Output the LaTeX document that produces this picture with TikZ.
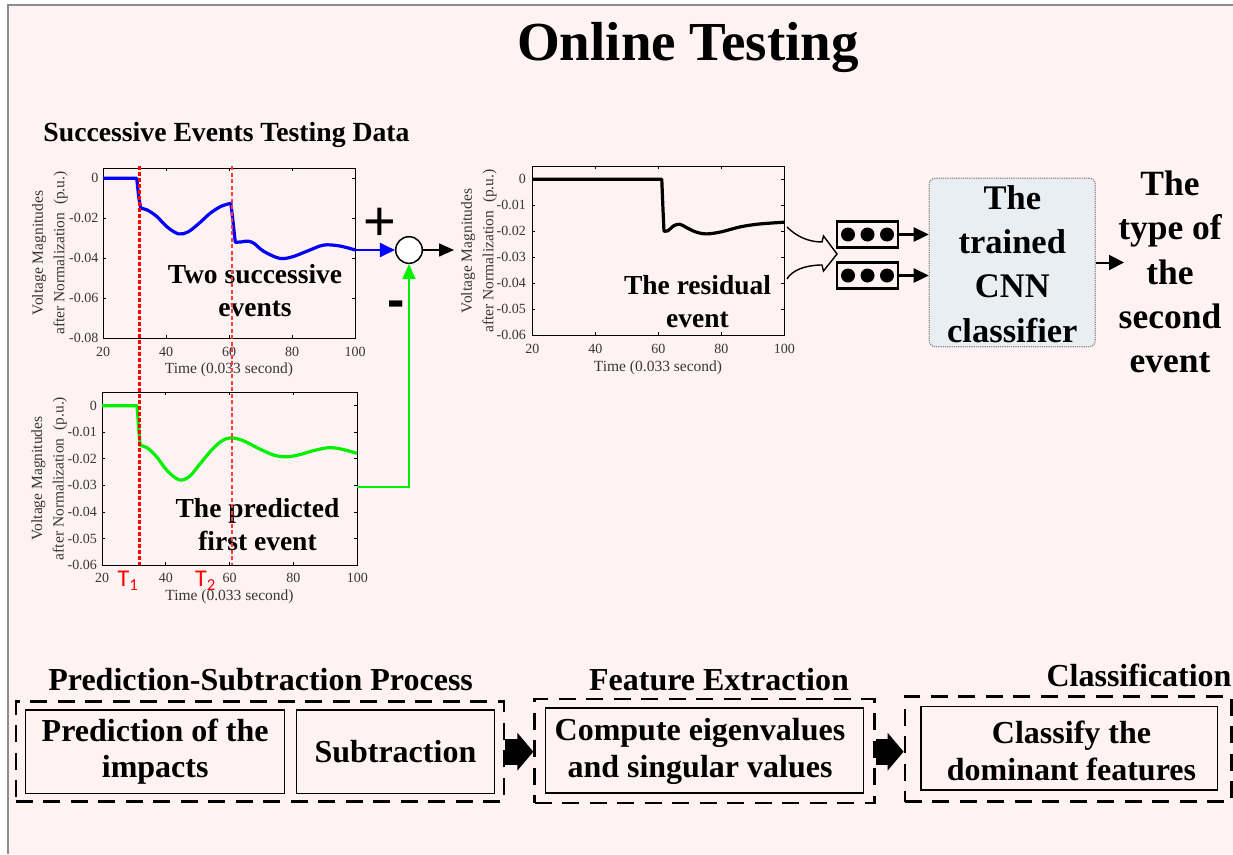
\documentclass[tikz,border=0pt]{standalone}
\usepackage{fontspec}
\setmainfont{Liberation Serif}
\newfontfamily\calib{Carlito}
\newfontfamily\arialf{Liberation Sans}
\usetikzlibrary{arrows.meta,calc}
\definecolor{bgpink}{RGB}{254,242,242}
\definecolor{framegray}{RGB}{140,140,140}
\definecolor{cnnfill}{RGB}{233,238,242}
\definecolor{tickgray}{RGB}{55,55,55}
\definecolor{mygreen}{RGB}{0,240,0}
\definecolor{myblue}{RGB}{0,0,255}
\definecolor{myred}{RGB}{255,0,0}
\definecolor{tmarkred}{RGB}{255,60,60}
\tikzset{
  axisbox/.style={draw=black, line width=1pt, inner sep=0pt},
  tickline/.style={black, line width=0.8pt},
  ticklab/.style={font=\fontsize{14}{16}\selectfont, text=tickgray, inner sep=0pt},
  axlab/.style={font=\fontsize{15.5}{21.5}\selectfont, text=tickgray, inner sep=0pt, align=center},
  plotlab/.style={font=\bfseries\fontsize{27.5}{33}\selectfont, align=center, inner sep=0pt},
  seclab/.style={font=\bfseries\fontsize{32}{36}\selectfont, inner sep=0pt},
  boxtext/.style={font=\bfseries\fontsize{32}{36.7}\selectfont, align=center, inner sep=0pt},
  innerbox/.style={draw=black, line width=1.4pt, inner sep=0pt},
  dashbox/.style={draw=black, line width=2.5pt, dash pattern=on 17pt off 10.5pt, inner sep=0pt},
  featbox/.style={draw=black, line width=2.6pt, inner sep=0pt, minimum width=61pt, minimum height=25.6pt},
  cnnbox/.style={draw=framegray, densely dotted, line width=1.2pt, fill=cnnfill, rounded corners=6pt, inner sep=0pt},
  bigtext/.style={font=\bfseries\fontsize{34.5}{44.2}\selectfont, align=center, inner sep=0pt},
  blockarrow/.style={line width=26pt, -{Triangle[length=16pt,width=37pt]}},
  tlabel/.style={font=\calib\fontsize{24}{26}\selectfont, text=myred, inner sep=0pt, anchor=base west},
  curve/.style={line width=3.2pt, line join=round}
}
\begin{document}
\begin{tikzpicture}[x=1pt,y=-1pt]
\useasboundingbox (0,0) rectangle (1233,854);
\fill[bgpink] (8,5) rectangle (1233,854);
\draw[framegray, line width=2pt] (8,854) -- (8,5) -- (1233,5);

% title and section label
\node[font=\bfseries\fontsize{55}{60}\selectfont, inner sep=0pt] (title) at (688,47) {Online Testing};
\node[font=\bfseries\fontsize{27.7}{30}\selectfont, inner sep=0pt] (sec0) at (226.5,135) {Successive Events Testing Data};

% ---------------- plot 1 -----------------
\node[axisbox, minimum width=252pt, minimum height=170.3pt] (p1) at (229,253.15) {};
\foreach \k/\lab in {0/0,1/-0.02,2/-0.04,3/-0.06,4/-0.08}{
  \draw[tickline] (103,{178.3+40*\k}) -- ++(3,0);
  \draw[tickline] (355,{178.3+40*\k}) -- ++(-3,0);
  \node[ticklab, anchor=east] (p1y\k) at (98.5,{178.3+40*\k}) {\lab};
}
\foreach \k/\lab in {0/20,1/40,2/60,3/80,4/100}{
  \draw[tickline] ({103+63*\k},338.3) -- ++(0,-3);
  \draw[tickline] ({103+63*\k},168) -- ++(0,3);
  \node[ticklab] (p1x\k) at ({103+63*\k},351.7) {\lab};
}
\node[axlab, rotate=90] (p1yl) at (50,253) {Voltage Magnitudes\\after Normalization\ \ (p.u.)};
\node[axlab] (p1xl) at (229,370) {Time (0.033 second)};
\begin{scope}[shift={(40pt,-178.3pt)}, x=3.15pt, y=2pt]
  \draw[myblue, curve]
    (20,0) -- (30.7,0) -- (31.4,-10) -- (32,-15)
    -- plot[smooth, tension=0.55] coordinates {(32,-15) (34,-15.8) (37,-19) (40.5,-24.5) (44,-27.8) (47,-26.8) (50.5,-22.5) (54,-17.5) (57.5,-14) (60.6,-12.5)}
    -- (61.3,-22) -- (62,-32)
    -- plot[smooth, tension=0.55] coordinates {(62,-32) (64,-31.8) (66,-31.4) (68,-32.6) (71,-36.5) (76,-40) (80,-39.3) (85,-36.3) (90,-33.4) (95,-33.8) (100,-35.8)};
\end{scope}
\node[plotlab] (p1t) at (255,291) {Two successive\\events};

% ---------------- plot 2 -----------------
\node[axisbox, minimum width=255.3pt, minimum height=172.6pt] (p2) at (229.65,478.7) {};
\foreach \k/\lab in {0/0,1/-0.01,2/-0.02,3/-0.03,4/-0.04,5/-0.05,6/-0.06}{
  \draw[tickline] (102,{405.7+26.55*\k}) -- ++(3,0);
  \draw[tickline] (357.3,{405.7+26.55*\k}) -- ++(-3,0);
  \node[ticklab, anchor=east] (p2y\k) at (97,{405.7+26.55*\k}) {\lab};
}
\foreach \k/\lab in {0/20,1/40,2/60,3/80,4/100}{
  \draw[tickline] ({102+63.83*\k},565) -- ++(0,-3);
  \draw[tickline] ({102+63.83*\k},392.4) -- ++(0,3);
  \node[ticklab] (p2x\k) at ({102+63.83*\k},577.7) {\lab};
}
\node[axlab, rotate=90] (p2yl) at (49.2,478.5) {Voltage Magnitudes\\after Normalization\ \ (p.u.)};
\node[axlab] (p2xl) at (229.5,596.7) {Time (0.033 second)};
\begin{scope}[shift={(38.25pt,-405.7pt)}, x=3.1875pt, y=2.66pt]
  \draw[mygreen, curve]
    (20,0) -- (31,0) -- (31.6,-10) -- (32,-15)
    -- plot[smooth, tension=0.55] coordinates {(32,-15) (34,-15.7) (37,-19) (40.5,-24.5) (44.3,-27.9) (47.5,-26.5) (51,-21.5) (54.5,-16.5) (57.5,-13.3) (60.2,-12.1) (64,-13) (69,-16) (74,-18.6) (78,-19.2) (82,-18.4) (86,-17) (91,-15.8) (95,-16.3) (100,-17.9)};
\end{scope}
\node[plotlab] (p2t) at (257.5,524.7) {The predicted\\first event};
\node[tlabel] (t1) at (117.5,586.7) {T\textsubscript{1}};
\node[tlabel] (t2) at (195,586.7) {T\textsubscript{2}};

% red dashed time markers
\draw[myred, line width=2.6pt, dash pattern=on 4pt off 2pt] (139.3,166) -- (139.3,565);
\draw[tmarkred, line width=1.6pt, dash pattern=on 4pt off 2.5pt] (231.7,166) -- (231.7,565);

% ---------------- summation -----------------
\node[circle, draw=black, line width=1.5pt, fill=white, minimum size=26.6pt, inner sep=0pt] (sum) at (409,250) {};
\coordinate (p1end) at (355,250);
\coordinate (p2out) at (357.3,486.7);
\coordinate (resin) at (454,250);
\draw[myblue, line width=2pt, -{Triangle[length=15pt,width=14pt]}] (p1end) -- (sum.west);
\draw[mygreen, line width=2pt, -{Triangle[length=15pt,width=13pt]}] (p2out) -| (sum.south);
\draw[black, line width=1.5pt, -{Triangle[length=15pt,width=13pt]}] (sum.east) -- (resin);
\node[font=\arialf\fontsize{56}{56}\selectfont, inner sep=0pt] (plus) at (380,224) {+};
\node[font=\arialf\bfseries\fontsize{52}{52}\selectfont, inner sep=0pt] (minus) at (395.7,309) {-};

% ---------------- plot 3 -----------------
\node[axisbox, minimum width=252pt, minimum height=168.7pt] (p3) at (658.3,250.65) {};
\foreach \k/\lab in {0/0,1/-0.01,2/-0.02,3/-0.03,4/-0.04,5/-0.05,6/-0.06}{
  \draw[tickline] (532.3,{179.3+26*\k}) -- ++(3,0);
  \draw[tickline] (784.3,{179.3+26*\k}) -- ++(-3,0);
  \node[ticklab, anchor=east] (p3y\k) at (526,{179.3+26*\k}) {\lab};
}
\foreach \k/\lab in {0/20,1/40,2/60,3/80,4/100}{
  \draw[tickline] ({532.3+63*\k},335) -- ++(0,-3);
  \draw[tickline] ({532.3+63*\k},166.3) -- ++(0,3);
  \node[ticklab] (p3x\k) at ({532.3+63*\k},349) {\lab};
}
\node[axlab, rotate=90] (p3yl) at (479,251) {Voltage Magnitudes\\after Normalization\ \ (p.u.)};
\node[axlab] (p3xl) at (658,368) {Time (0.033 second)};
\begin{scope}[shift={(469.3pt,-179.3pt)}, x=3.15pt, y=2.6pt]
  \draw[black, curve]
    (20,0) -- (61.1,0) -- (61.5,-12) -- (61.8,-19.9)
    -- plot[smooth, tension=0.55] coordinates {(61.8,-19.9) (63,-19.8) (65,-17.8) (66.9,-17.3) (69,-18.6) (72,-20.3) (75.4,-21) (80,-20.2) (86,-18.3) (92,-17.2) (100,-16.5)};
\end{scope}
\node[plotlab] (p3t) at (697.5,301.5) {The residual\\event};

% ---------------- features and CNN -----------------
\draw[black, line width=1.4pt, line join=miter, fill=bgpink]
  (787,227) .. controls (796,236) and (808,242) .. (822,242)
  -- (823.5,236) -- (837,254) -- (823.5,271) -- (822,265)
  .. controls (806,265) and (792,270) .. (787,279);
\node[featbox] (f1) at (867.5,234.5) {};
\node[featbox] (f2) at (867.5,275.5) {};
\foreach \dx in {-19.5,0,19.5}{
  \fill[black] ($(f1.center)+(\dx,0)$) circle [radius=7pt];
  \fill[black] ($(f2.center)+(\dx,0)$) circle [radius=7pt];
}
\node[cnnbox, minimum width=166pt, minimum height=168.4pt] (cnn) at (1012.3,262.5) {};
\node[bigtext] (cnnlab) at (1012.3,264) {The\\trained\\CNN\\classifier};
\draw[black, line width=2.6pt, -{Triangle[length=15pt,width=14pt]}] (f1.east) -- (f1.east -| cnn.west);
\draw[black, line width=2.6pt, -{Triangle[length=15pt,width=14pt]}] (f2.east) -- (f2.east -| cnn.west);
\node[bigtext, font=\bfseries\fontsize{35.5}{44.2}\selectfont] (out) at (1170,272) {The\\type of\\the\\second\\event};
\coordinate (outin) at (1124,262.5);
\draw[black, line width=2pt, -{Triangle[length=15pt,width=15pt]}] (cnn.east) -- (outin);

% ---------------- bottom process -----------------
\node[seclab] (l1) at (260.6,680) {Prediction-Subtraction Process};
\node[seclab] (l2) at (719,680) {Feature Extraction};
\node[seclab] (l3) at (1139,675) {Classification};
\node[dashbox, minimum width=488.2pt, minimum height=100pt] (g1) at (259.9,751.7) {};
\node[dashbox, minimum width=339.9pt, minimum height=104pt] (g2) at (704.55,751) {};
\node[dashbox, minimum width=326.5pt, minimum height=105pt] (g3) at (1068.1,749.2) {};
\node[innerbox, minimum width=259pt, minimum height=83.3pt] (b1) at (155.2,751.7) {};
\node[boxtext] (b1t) at (155.2,751.7) {Prediction of the\\impacts};
\node[innerbox, minimum width=197.8pt, minimum height=83.3pt] (b2) at (395.4,751.7) {};
\node[boxtext] (b2t) at (395.4,751.7) {Subtraction};
\node[innerbox, minimum width=317.6pt, minimum height=85pt] (b3) at (704.4,750.5) {};
\node[boxtext] (b3t) at (700,751.5) {Compute eigenvalues\\and singular values};
\node[innerbox, minimum width=296.7pt, minimum height=83.3pt] (b4) at (1069.4,748.4) {};
\node[boxtext] (b4t) at (1071.5,750.8) {Classify the\\dominant features};
\draw[blockarrow] (g1.east) -- (g2.west |- g1.east);
\draw[blockarrow] (g2.east |- g1.east) -- (g3.west |- g1.east);
\end{tikzpicture}
\end{document}
